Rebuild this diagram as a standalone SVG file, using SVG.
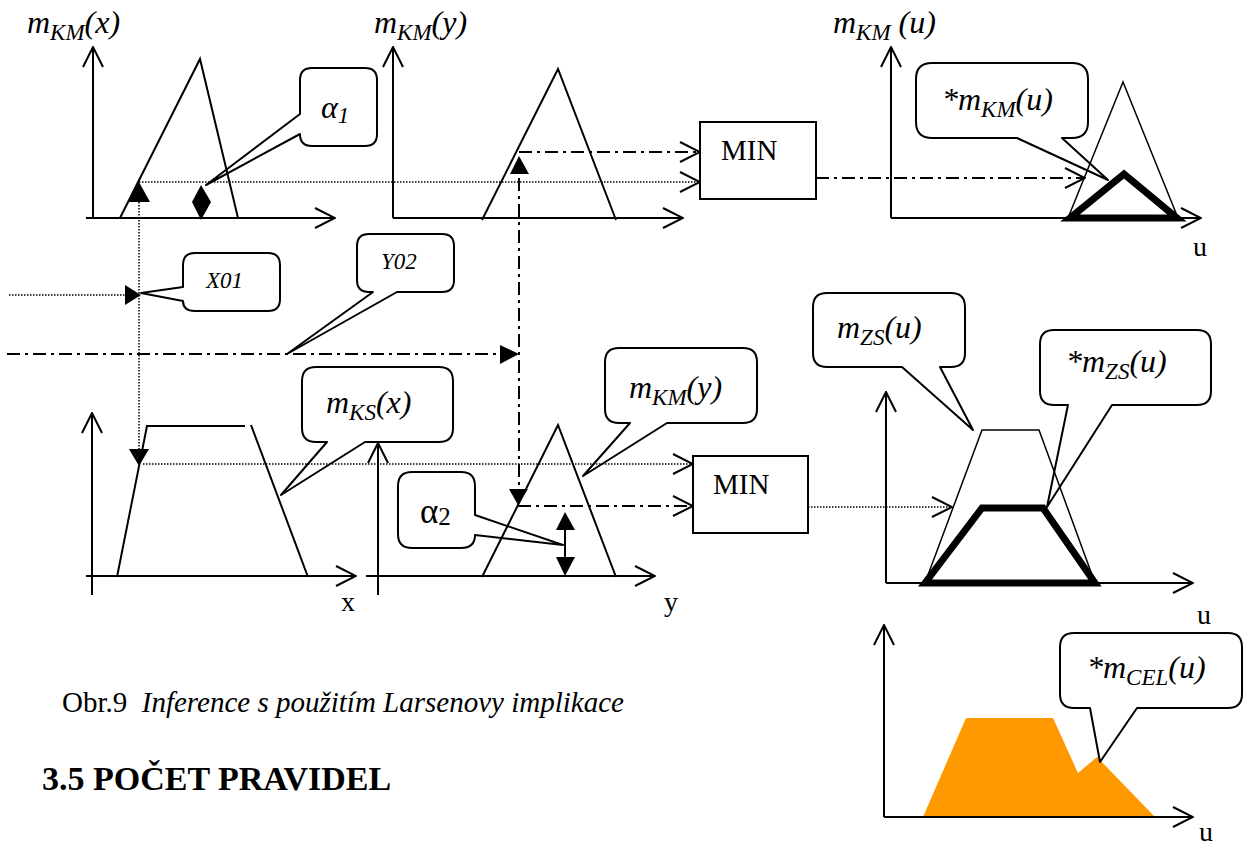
<svg xmlns="http://www.w3.org/2000/svg" width="1244" height="852" viewBox="0 0 1244 852">
<style>
  text { font-family: "Liberation Serif", "Times New Roman", serif; fill: #000; }
  .ln { fill: none; stroke: #000; stroke-width: 2; }
  .thick { fill: none; stroke: #000; stroke-width: 7; stroke-linejoin: miter; }
  .dot { fill: none; stroke: #000; stroke-width: 1.5; stroke-dasharray: 1.5 1.5; }
  .dd { fill: none; stroke: #000; stroke-width: 2; stroke-dasharray: 13 5 3 5; }
  .mk { fill: #000; stroke: none; }
  .bub { fill: #fff; stroke: #000; stroke-width: 2; stroke-linejoin: round; }
  .box { fill: #fff; stroke: #000; stroke-width: 2; }
  .it { font-style: italic; font-size: 32px; }
  .sub { font-size: 23px; }
  .lbl { font-size: 28px; }
  .min { font-size: 29px; }
  .small { font-style: italic; font-size: 23px; }
</style>
<defs>
  <marker id="open" viewBox="0 0 22 22" refX="21" refY="11" markerWidth="22" markerHeight="22" markerUnits="userSpaceOnUse" orient="auto">
    <path d="M1,1 L21,11 L1,21" fill="none" stroke="#000" stroke-width="2" stroke-dasharray="none"/>
  </marker>
</defs>

<!-- callout bubbles (drawn first, lines pass over them) -->
<g id="callout-alpha1">
  <path class="bub" d="M312,68 H365 Q377,68 377,80 V134 Q377,146 365,146 H312 Q300,146 300,134 L206,185 L300,114 V80 Q300,68 312,68 Z"/>
  <text class="it" x="321" y="118">α<tspan class="sub" dy="5">1</tspan></text>
</g>
<g id="callout-star-mkm-u">
  <path class="bub" d="M932,63 H1072 Q1088,63 1088,79 V122 Q1088,138 1072,138 H1062 L1108,180 L1017,138 H932 Q916,138 916,122 V79 Q916,63 932,63 Z"/>
  <text class="it" x="942" y="110">*m<tspan class="sub" dy="7">KM</tspan><tspan dy="-7">(u)</tspan></text>
</g>
<g id="callout-x01">
  <path class="bub" d="M195,253 H268 Q280,253 280,265 V299 Q280,311 268,311 H195 Q183,311 183,301 L141,293 L183,287 V265 Q183,253 195,253 Z"/>
  <text class="small" x="206" y="288">X01</text>
</g>
<g id="callout-y02">
  <path class="bub" d="M369,234 H442 Q454,234 454,246 V280 Q454,292 442,292 H397 L287,354 L373,292 H369 Q357,292 357,280 V246 Q357,234 369,234 Z"/>
  <text class="small" x="381" y="269">Y02</text>
</g>
<g id="callout-mks-x">
  <path class="bub" d="M316,367 H439 Q453,367 453,381 V428 Q453,442 439,442 H365 L281,495 L327,442 H316 Q302,442 302,428 V381 Q302,367 316,367 Z"/>
  <text class="it" x="326" y="413">m<tspan class="sub" dy="7">KS</tspan><tspan dy="-7">(x)</tspan></text>
</g>
<g id="callout-alpha2">
  <path class="bub" d="M412,472 H461 Q475,472 475,486 V515 L563,545 L475,535 Q475,548 461,548 H412 Q398,548 398,534 V486 Q398,472 412,472 Z"/>
  <text x="420" y="523" style="font-size:35px">α<tspan style="font-size:25px" dy="2">2</tspan></text>
</g>
<g id="callout-mkm-y">
  <path class="bub" d="M619,348 H743 Q757,348 757,362 V409 Q757,423 743,423 H667 L583,476 L630,423 H619 Q605,423 605,409 V362 Q605,348 619,348 Z"/>
  <text class="it" x="629" y="398">m<tspan class="sub" dy="7">KM</tspan><tspan dy="-7">(y)</tspan></text>
</g>
<g id="callout-mzs-u">
  <path class="bub" d="M827,293 H951 Q965,293 965,307 V353 Q965,367 951,367 H940 L973,430 L902,367 H827 Q813,367 813,353 V307 Q813,293 827,293 Z"/>
  <text class="it" x="837" y="338">m<tspan class="sub" dy="7">ZS</tspan><tspan dy="-7">(u)</tspan></text>
</g>
<g id="callout-star-mzs-u">
  <path class="bub" d="M1054,330 H1197 Q1211,330 1211,344 V391 Q1211,405 1197,405 H1112 L1047,507 L1068,405 H1054 Q1040,405 1040,391 V344 Q1040,330 1054,330 Z"/>
  <text class="it" x="1066" y="372">*m<tspan class="sub" dy="7">ZS</tspan><tspan dy="-7">(u)</tspan></text>
</g>

<!-- chart: m_KM(x) -->
<g id="chart-mkm-x">
  <text class="it" x="27" y="33">m<tspan class="sub" dy="7">KM</tspan><tspan dy="-7">(x)</tspan></text>
  <path class="ln" d="M93,218 V47" marker-end="url(#open)"/>
  <path class="ln" d="M86,218 H335" marker-end="url(#open)"/>
  <polyline class="ln" points="120,218 200,59 238,218"/>
  <polygon class="mk" points="128,202 150,202 139,182"/>
  <polygon class="mk" points="201,185 211,202 201,220 192,202"/>
</g>

<!-- chart: m_KM(y) -->
<g id="chart-mkm-y">
  <text class="it" x="374" y="33">m<tspan class="sub" dy="7">KM</tspan><tspan dy="-7">(y)</tspan></text>
  <path class="ln" d="M393,218 V47" marker-end="url(#open)"/>
  <path class="ln" d="M393,218 H683" marker-end="url(#open)"/>
  <polyline class="ln" points="482,220 558,69 616,220"/>
  <polygon class="mk" points="510,174 529,174 519,156"/>
</g>

<!-- MIN block (upper rule) -->
<g id="min-1">
  <rect class="box" x="700" y="122" width="116" height="77"/>
  <text class="min" x="721" y="160">MIN</text>
</g>

<!-- chart: m_KM(u) -->
<g id="chart-mkm-u">
  <text class="it" x="833" y="33">m<tspan class="sub" dy="7">KM</tspan><tspan dy="-7" style="white-space:pre"> (u)</tspan></text>
  <path class="ln" d="M891,218 V47" marker-end="url(#open)"/>
  <path class="ln" d="M891,218 H1201" marker-end="url(#open)"/>
  <polyline class="ln" style="stroke-width:1.5" points="1068,218 1123,82 1178,218"/>
  <polygon class="thick" points="1070,218 1124,174 1177,218"/>
  <text class="lbl" x="1193" y="256">u</text>
</g>

<!-- chart: m_KS(x) -->
<g id="chart-mks-x">
  <path class="ln" d="M92,595 V413" marker-end="url(#open)"/>
  <path class="ln" d="M86,576 H356" marker-end="url(#open)"/>
  <polyline class="ln" points="117,577 147,426 245,426"/>
  <line class="ln" x1="251" y1="425" x2="308" y2="577"/>
  <polygon class="mk" points="129,449 149,449 139,466"/>
  <text class="lbl" x="341" y="611">x</text>
</g>

<!-- chart: m_KM(y), lower rule -->
<g id="chart-mkm-y2">
  <path class="ln" d="M378,595 V443" marker-end="url(#open)"/>
  <path class="ln" d="M366,576 H655" marker-end="url(#open)"/>
  <polyline class="ln" points="482,577 558,425 616,577"/>
  <line class="ln" x1="565" y1="525" x2="565" y2="562"/>
  <polygon class="mk" points="556,530 575,530 565,512"/>
  <polygon class="mk" points="556,557 575,557 565,576"/>
  <polygon class="mk" points="509,489 528,489 518,505"/>
  <text class="lbl" x="664" y="611">y</text>
</g>

<!-- MIN block (lower rule) -->
<g id="min-2">
  <rect class="box" x="693" y="456" width="115" height="77"/>
  <text class="min" x="713" y="494">MIN</text>
</g>

<!-- chart: m_ZS(u) -->
<g id="chart-mzs-u">
  <path class="ln" d="M886,583 V392" marker-end="url(#open)"/>
  <path class="ln" d="M886,583 H1193" marker-end="url(#open)"/>
  <polyline class="ln" style="stroke-width:1.5" points="925,583 982,430 1039,430 1095,583"/>
  <polygon class="thick" points="925,583 982,508 1043,508 1095,583"/>
  <text class="lbl" x="1197" y="624">u</text>
</g>

<!-- chart: m_CEL(u) -->
<g id="chart-mcel-u">
  <polygon fill="#FF9900" points="923,817 966,718 1053,718 1078,773 1097,757 1155,817"/>
  <path class="ln" d="M884,817 V625" marker-end="url(#open)"/>
  <path class="ln" d="M884,817 H1193" marker-end="url(#open)"/>
  <text class="lbl" x="1199" y="841">u</text>
</g>
<g id="callout-star-mcel-u">
  <path class="bub" d="M1074,633 H1228 Q1242,633 1242,647 V694 Q1242,708 1228,708 H1137 L1100,762 L1090,708 H1074 Q1060,708 1060,694 V647 Q1060,633 1074,633 Z"/>
  <text class="it" x="1087" y="678">*m<tspan class="sub" dy="7">CEL</tspan><tspan dy="-7">(u)</tspan></text>
</g>

<!-- connectors -->
<g id="connectors">
  <!-- alpha1 level into upper MIN -->
  <path class="dot" d="M139,182 H700" marker-end="url(#open)"/>
  <!-- X01 input -->
  <path class="dot" d="M9,295 H126"/>
  <polygon class="mk" points="125,285 141,295 125,305"/>
  <path class="dot" d="M139,202 V449"/>
  <!-- Y02 input -->
  <path class="dd" d="M7,354 H500"/>
  <polygon class="mk" points="500,345 519,354 500,364"/>
  <path class="dd" d="M519,178 V489"/>
  <path class="dd" d="M519,152 H700" marker-end="url(#open)"/>
  <!-- upper MIN result -->
  <path class="dd" d="M816,178 H1085" marker-end="url(#open)"/>
  <!-- lower rule inputs -->
  <path class="dot" d="M143,464 H693" marker-end="url(#open)"/>
  <path class="dd" d="M518,506 H693" marker-end="url(#open)"/>
  <!-- lower MIN result -->
  <path class="dot" d="M808,507 H952" marker-end="url(#open)"/>
</g>

<!-- caption and section heading -->
<text x="62" y="712" style="font-size:29px; white-space:pre">Obr.9  <tspan font-style="italic">Inference s použitím Larsenovy implikace</tspan></text>
<text x="42" y="790" style="font-size:34px; font-weight:bold">3.5 POČET PRAVIDEL</text>
</svg>
